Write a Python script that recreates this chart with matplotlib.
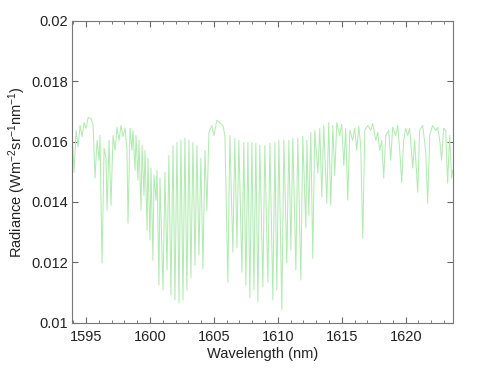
import matplotlib
matplotlib.use('Agg')
import matplotlib.pyplot as plt
from matplotlib.ticker import MultipleLocator

plt.rcParams['font.family'] = ['Liberation Sans', 'DejaVu Sans']
plt.rcParams['mathtext.default'] = 'regular'

# spectrum vertices (peaks and line minima)
wavelength = [
    1593.91, 1594.06, 1594.22, 1594.38, 1594.53, 1594.69, 1594.84, 1595.00, 1595.16, 1595.39,
    1595.55, 1595.70, 1595.86, 1596.02, 1596.09, 1596.25, 1596.41, 1596.56, 1596.64, 1596.80,
    1596.95, 1597.11, 1597.27, 1597.42, 1597.58, 1597.73, 1597.89, 1598.05, 1598.20, 1598.28,
    1598.44, 1598.59, 1598.67, 1598.83, 1598.91, 1599.06, 1599.14, 1599.30, 1599.38, 1599.53,
    1599.61, 1599.77, 1599.84, 1600.00, 1600.08,
    1600.23, 1600.31, 1600.47, 1600.55, 1600.70, 1600.78, 1601.02, 1601.17, 1601.33, 1601.48,
    1601.64, 1601.80, 1601.95, 1602.11, 1602.27, 1602.42, 1602.58, 1602.73, 1602.89, 1603.05,
    1603.20, 1603.36, 1603.52, 1603.67, 1603.83, 1603.98, 1604.14, 1604.30, 1604.45, 1604.61,
    1604.84, 1605.00, 1605.23, 1605.47, 1605.70, 1605.86,
    1606.09, 1606.25, 1606.48, 1606.64, 1606.80, 1606.95, 1607.19, 1607.34, 1607.50, 1607.66,
    1607.81, 1607.97, 1608.13, 1608.28, 1608.44, 1608.59, 1608.83, 1608.98, 1609.22, 1609.38,
    1609.61, 1609.77, 1609.92, 1610.08, 1610.31, 1610.47, 1610.70, 1610.86, 1611.02, 1611.17,
    1611.41, 1611.56, 1611.80, 1611.95, 1612.19, 1612.27, 1612.42, 1612.58, 1612.73, 1612.89,
    1613.13, 1613.28, 1613.44, 1613.59, 1613.83, 1613.98,
    1614.14, 1614.30, 1614.45, 1614.61, 1614.84, 1615.00, 1615.16, 1615.31, 1615.47, 1615.63,
    1615.86, 1616.02, 1616.17, 1616.33, 1616.48, 1616.64, 1616.80, 1617.03, 1617.27, 1617.42,
    1617.66, 1617.81, 1617.97, 1618.13, 1618.28, 1618.44, 1618.67, 1618.83, 1618.98, 1619.22,
    1619.38, 1619.53, 1619.69, 1619.84, 1620.00, 1620.16, 1620.31, 1620.55, 1620.70, 1620.94,
    1621.09, 1621.33, 1621.56, 1621.72, 1621.88, 1622.11, 1622.34, 1622.50, 1622.66, 1622.81,
    1622.97, 1623.13, 1623.28, 1623.44, 1623.59, 1623.67,
]
radiance = [
    0.01627, 0.01498, 0.01637, 0.01584, 0.01653, 0.01617, 0.01663, 0.01644, 0.01680, 0.01677,
    0.01653, 0.01479, 0.01604, 0.01538, 0.01620, 0.01198, 0.01578, 0.01545, 0.01373, 0.01604,
    0.01389, 0.01620, 0.01571, 0.01647, 0.01604, 0.01653, 0.01617, 0.01644, 0.01571, 0.01330,
    0.01644, 0.01571, 0.01637, 0.01505, 0.01620, 0.01472, 0.01604, 0.01373, 0.01587, 0.01422,
    0.01571, 0.01307, 0.01545, 0.01274, 0.01512,
    0.01208, 0.01488, 0.01406, 0.01505, 0.01125, 0.01479, 0.01109, 0.01498, 0.01175, 0.01554,
    0.01092, 0.01587, 0.01076, 0.01597, 0.01066, 0.01604, 0.01076, 0.01611, 0.01109, 0.01604,
    0.01149, 0.01597, 0.01191, 0.01587, 0.01224, 0.01545, 0.01180, 0.01571, 0.01373, 0.01630,
    0.01653, 0.01620, 0.01670, 0.01663, 0.01653, 0.01620,
    0.01135, 0.01620, 0.01234, 0.01611, 0.01248, 0.01604, 0.01168, 0.01597, 0.01125, 0.01597,
    0.01083, 0.01597, 0.01109, 0.01594, 0.01069, 0.01587, 0.01119, 0.01587, 0.01135, 0.01594,
    0.01076, 0.01597, 0.01109, 0.01604, 0.01043, 0.01604, 0.01198, 0.01604, 0.01241, 0.01611,
    0.01175, 0.01611, 0.01142, 0.01617, 0.01314, 0.01604, 0.01356, 0.01630, 0.01214, 0.01637,
    0.01495, 0.01644, 0.01416, 0.01653, 0.01396, 0.01663,
    0.01389, 0.01653, 0.01488, 0.01663, 0.01620, 0.01657, 0.01521, 0.01644, 0.01406, 0.01637,
    0.01604, 0.01644, 0.01571, 0.01650, 0.01587, 0.01281, 0.01637, 0.01653, 0.01637, 0.01660,
    0.01604, 0.01630, 0.01571, 0.01604, 0.01479, 0.01620, 0.01637, 0.01538, 0.01647, 0.01620,
    0.01653, 0.01571, 0.01465, 0.01604, 0.01644, 0.01620, 0.01644, 0.01512, 0.01604, 0.01432,
    0.01637, 0.01653, 0.01571, 0.01396, 0.01620, 0.01653, 0.01637, 0.01647, 0.01604, 0.01538,
    0.01644, 0.01637, 0.01462, 0.01620, 0.01479, 0.01505,
]

xticks = [1595, 1600, 1605, 1610, 1615, 1620]
yticks = [0.01, 0.012, 0.014, 0.016, 0.018, 0.02]
ytick_labels = ['0.01', '0.012', '0.014', '0.016', '0.018', '0.02']

fig = plt.figure(figsize=(5, 3.83), dpi=100, facecolor='white')
ax = fig.add_axes([0.144, 0.157, 0.762, 0.789])

ax.plot(wavelength, radiance, color='#b2ebb2', linewidth=0.75)

ax.set_xlim(1593.9, 1623.7)
ax.set_ylim(0.01, 0.02)
ax.set_xticks(xticks)
ax.set_yticks(yticks)
ax.set_yticklabels(ytick_labels)
ax.xaxis.set_minor_locator(MultipleLocator(1))

ax.tick_params(which='both', direction='in', top=True, right=True,
               labelsize=10.5, colors='#666666', labelcolor='#222222')
ax.tick_params(axis='x', pad=5)
ax.tick_params(axis='y', pad=3)
ax.tick_params(which='major', length=4)
ax.tick_params(which='minor', length=2)
for s in ax.spines.values():
    s.set_color('#777777')
    s.set_linewidth(0.8)

ax.set_xlabel('Wavelength (nm)', fontsize=10.5, color='#222222', labelpad=2)
ax.set_ylabel('Radiance (Wm$^{-2}$sr$^{-1}$nm$^{-1}$)', fontsize=10.5,
              color='#222222', labelpad=2)

plt.savefig('out.png', dpi=100, facecolor='white')
plt.close()
